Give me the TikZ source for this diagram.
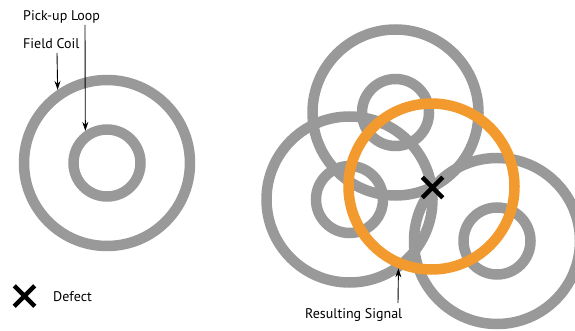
\documentclass[tikz,border=0pt]{standalone}
\usepackage{fontspec}
\setmainfont{PT Sans}
\usetikzlibrary{shapes.misc,arrows.meta}
\definecolor{coilgray}{HTML}{999999}
\definecolor{sigorange}{HTML}{F39A2E}
\begin{document}
\begin{tikzpicture}[x=1pt,y=-1pt,
  coil/.style={circle,draw=coilgray,line width=10.5pt,inner sep=0pt,minimum size=166pt},
  loop/.style={circle,draw=coilgray,line width=10.5pt,inner sep=0pt,minimum size=67pt},
  signal/.style={circle,draw=sigorange,line width=10.5pt,inner sep=0pt,minimum size=166pt},
  defect/.style={cross out,draw=black,line width=4.5pt,inner sep=0pt,minimum size=16pt},
  lbl/.style={font=\fontsize{14}{16}\selectfont,inner sep=0pt,anchor=base west},
  pointer/.style={draw=black,line width=0.9pt,-{Stealth[length=9pt,width=6pt]}}]
\useasboundingbox (0,0) rectangle (575,331);
% left: single probe
\node[coil] (fc) at (107,163) {};
\node[loop] (pl) at (107,163) {};
\node[lbl] (plt) at (23,21) {Pick-up Loop};
\node[lbl] (fct) at (23,48.5) {Field Coil};
\coordinate (pls) at (85,25);
\coordinate (fcs) at (57,53);
\draw[pointer] (pls) -- (pl.124.6);
\draw[pointer] (fcs) -- (fc.124.2);
% legend
\node[defect] (dx) at (24.5,296) {};
\node[lbl] (dt) at (53,301) {Defect};
% right: three probe positions
\node[coil] (c1) at (395.5,112.5) {};
\node[loop] (l1) at (395.5,112.5) {};
\node[coil] (c2) at (349.5,199.5) {};
\node[loop] (l2) at (349.5,199.5) {};
\node[coil] (c3) at (497,241) {};
\node[loop] (l3) at (497,241) {};
\node[signal] (sig) at (431.5,186.5) {};
\node[defect] (d) at (432.5,187.5) {};
\node[lbl] (rst) at (305,318) {Resulting Signal};
\coordinate (rss) at (398,303);
\draw[pointer] (rss) -- (sig.248);
\end{tikzpicture}
\end{document}
